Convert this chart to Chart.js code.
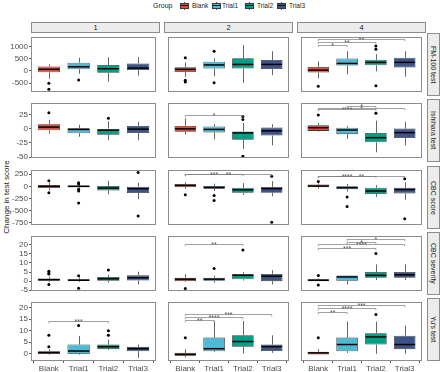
<!DOCTYPE html>
<html><head><meta charset="utf-8">
<script src="https://cdn.jsdelivr.net/npm/chart.js@4"></script>
<style>
body{margin:0;width:440px;height:372px;background:#fff;position:relative;overflow:hidden;font-family:"Liberation Sans",Arial,sans-serif;}
canvas{position:absolute;}
.stripT{position:absolute;top:22px;height:11px;width:129px;background:#ececec;border:1px solid #8c8c8c;box-sizing:border-box;font-size:7.5px;color:#1a1a1a;text-align:center;line-height:9px;}
.stripR{position:absolute;left:427px;width:13px;height:63px;background:#ececec;border:1px solid #8c8c8c;box-sizing:border-box;font-size:7px;color:#1a1a1a;writing-mode:vertical-rl;text-align:center;line-height:11px;white-space:nowrap;}
.lg{position:absolute;top:0;height:11px;line-height:11px;color:#1a1a1a;white-space:nowrap;}
.kw{position:absolute;top:1.5px;width:1px;height:8px;background:#555;}
.kb{position:absolute;top:2.5px;width:9px;height:6px;border:1px solid #3a3a3a;box-sizing:border-box;}
.km{position:absolute;top:5px;width:7px;height:1px;background:#111;}
#ytitle{position:absolute;left:6px;top:197px;transform:translate(-50%,-50%) rotate(-90deg);font-size:8px;color:#222;white-space:nowrap;}
</style>
</head><body>
<script>
// ---------- data ----------
const groups = ['Blank','Trial1','Trial2','Trial3'];
const sessions = ['1','2','4'];
const tests = ['FM-100 test','Ishihara test','CBC score','CBC severity',"Yu's test"];
const groupColors = ['#E64B35','#4DBBD5','#00A087','#3C5488'];

// [lower whisker, Q1, median, Q3, upper whisker] per session, per group
const fm100Stats = [
  [[-330,-60,60,180,260],[-120,60,165,330,535],[-450,-80,85,240,550],[-200,35,110,300,560]],
  [[-240,-50,60,140,345],[-225,95,240,370,510],[-490,95,260,510,1050],[-180,70,260,440,800]],
  [[-310,-70,25,155,380],[-140,215,300,500,800],[-25,225,345,450,680],[-240,130,345,535,800]]
];
const fm100Outliers = [
  [[-510,-760],[-380],[],[]],
  [[535,-390,-460],[800,-490],[],[]],
  [[-630],[],[1010,880,-610],[]]
];
const fm100Sig = [[],[],[[0,1,1050,'*'],[0,2,1168,'**'],[0,3,1286,'**']]];
const fm100Ticks = [-500,0,500,1000];

const ishiharaStats = [
  [[-8.8,-3.1,2.6,7.7,15.5],[-14.4,-8.2,-1.5,0.5,6.7],[-20.6,-10.8,-3,0,12.9],[-20.6,-7.7,-1,4.6,11.9]],
  [[-10.3,-5.7,-0.5,4.6,18],[-19,-6.7,-1.5,3.6,7.7],[-35.6,-19.6,-7.7,-5.2,9.8],[-29.4,-12.4,-4.1,2,7.7]],
  [[-5.2,-4.1,1.5,5.7,9.8],[-18,-9.8,-2.6,1.5,4.6],[-41.8,-24.2,-16,-7.7,13.9],[-29.4,-16.5,-7.2,0,11.9]]
];
const ishiharaOutliers = [
  [[27.8],[],[18],[]],
  [[],[],[21,16,-48.5],[]],
  [[23.7],[],[26.8],[]]
];
const ishiharaSig = [[],[[0,2,24.5,'*']],[[0,2,34.2,'****'],[0,3,35.7,'*'],[1,2,39.3,'*']]];
const ishiharaTicks = [-50,-25,0,25];

const cbcScoreStats = [
  [[-85,-36,0,30,72],[-36,-18,0,18,36],[-163,-84,-36,6,115],[-265,-139,-48,-6,72]],
  [[-54,-18,18,48,84],[-96,-48,-24,6,54],[-175,-133,-72,-30,66],[-205,-133,-48,-12,108]],
  [[-48,-18,6,36,60],[-108,-60,-30,0,48],[-217,-157,-96,-30,24],[-277,-145,-66,-30,84]]
];
const cbcScoreOutliers = [
  [[115,-132],[72,48,-60,-96,-343],[],[283,-608]],
  [[-175],[-187,-289],[],[205,-741]],
  [[102],[-217,-416],[],[157,-669]]
];
const cbcScoreSig = [[],[[0,2,245,'***'],[0,3,262,'**']],[[0,2,205,'****'],[0,3,220,'**']]];
const cbcScoreTicks = [-750,-500,-250,0,250];

const cbcSeverityStats = [
  [[-0.5,0,0.8,1.5,2.5],[-0.5,0,0.5,1.1,2],[-0.8,0.2,1.3,2.3,3.5],[-1.8,0.3,1.9,3.2,5.2]],
  [[-0.3,0,1.1,1.9,3.9],[-0.8,0.2,1.1,1.9,3.1],[0.3,1,3.2,4,5],[-1.8,0,2.7,4,6]],
  [[0,0,0.5,1,1.5],[-1.8,0.2,2.3,3.1,3.1],[0.6,1.9,3.2,5,9.2],[0.6,1.9,3.5,5,9.2]]
];
const cbcSeverityOutliers = [
  [[5.5,4.5,3.9,-1.9],[3,-3.9],[6.1],[]],
  [[-4],[6.9],[17.1],[]],
  [[3.1,-2.1],[],[15.2],[]]
];
const cbcSeveritySig = [[],[[0,2,20.6,'**']],[[0,2,18.4,'***'],[0,3,20.2,'****'],[1,2,21.8,'*'],[1,3,23.4,'*']]];
const cbcSeverityTicks = [-5,0,5,10,15,20];

const yuStats = [
  [[-0.4,-0.1,0.5,1.1,2],[-0.4,-0.1,1.2,4,7.7],[1.6,2,3.1,4,6.1],[-1.8,1.1,2.2,3,4]],
  [[-1.5,-0.9,-0.3,0.4,2],[0.7,1.1,2.2,7,14.2],[0.1,3,5.3,8,14.2],[0.4,1.2,3.1,4,8]],
  [[-0.4,-0.3,0.4,0.9,2],[0.4,1.1,4,7,13.9],[0,4,7.3,8.9,13.9],[0,2,4,7.8,12.2]]
];
const yuOutliers = [
  [[8,3],[12.2],[10,8],[]],
  [[6.9],[],[],[]],
  [[6.9],[],[17],[]]
];
const yuSig = [[[0,2,14.2,'***']],[[0,1,14.6,'**'],[0,2,15.9,'****'],[0,3,17,'***']],[[0,1,18.2,'**'],[0,2,19.9,'****'],[0,3,21.1,'***']]];
const yuTicks = [0,5,10,15,20];

// ---------- layout ----------
const statsByTest = [fm100Stats, ishiharaStats, cbcScoreStats, cbcSeverityStats, yuStats];
const outliersByTest = [fm100Outliers, ishiharaOutliers, cbcScoreOutliers, cbcSeverityOutliers, yuOutliers];
const sigByTest = [fm100Sig, ishiharaSig, cbcScoreSig, cbcSeveritySig, yuSig];
const ticksByTest = [fm100Ticks, ishiharaTicks, cbcScoreTicks, cbcSeverityTicks, yuTicks];
const yRanges = [[-868,1382],[-51.7,44.9],[-795,336],[-5.43,24.86],[-3.12,22.4]];

const colLeft = [31,164,297], panelW = 129;
const rowTop = [33,99,166,232,298], panelH = 63;
const yAxisW = 31, xAxisH = 11;

Chart.defaults.font.family = '"Liberation Sans", Arial, sans-serif';

function el(cls, style, text){
  const e = document.createElement('div');
  if(cls) e.className = cls;
  if(style) e.style.cssText = style;
  if(text!==undefined) e.textContent = text;
  document.body.appendChild(e);
  return e;
}

// legend
el('lg','left:153px;font-size:7px;','Group');
const keyLeft=[180,212,245,277], labLeft=[192,222,257,289];
groups.forEach((g,i)=>{
  el('kw','left:'+(keyLeft[i]+4)+'px');
  const b = el('kb','left:'+keyLeft[i]+'px');
  b.style.backgroundColor = groupColors[i];
  el('km','left:'+(keyLeft[i]+1)+'px');
  el('lg','left:'+labLeft[i]+'px;font-size:6.5px;',g);
});
// strips
sessions.forEach((s,c)=> el('stripT','left:'+colLeft[c]+'px',s));
tests.forEach((t,r)=> el('stripR','top:'+rowTop[r]+'px',t));
el(null,null,'Change in test score').id='ytitle';

function makePlugin(stats, sig){
  return {
    id:'boxParts',
    beforeDatasetsDraw(chart){
      const ctx = chart.ctx, xs = chart.scales.x, ys = chart.scales.y;
      ctx.save();
      ctx.strokeStyle = '#555'; ctx.lineWidth = 0.9;
      stats.forEach((s,i)=>{
        const px = Math.round(xs.getPixelForValue(i+1)) + 0.5;
        ctx.beginPath();
        ctx.moveTo(px, ys.getPixelForValue(s[0])); ctx.lineTo(px, ys.getPixelForValue(s[1]));
        ctx.moveTo(px, ys.getPixelForValue(s[3])); ctx.lineTo(px, ys.getPixelForValue(s[4]));
        ctx.stroke();
      });
      ctx.restore();
    },
    afterDatasetDraw(chart, args){
      if(args.index !== 0) return;
      const ctx = chart.ctx, ys = chart.scales.y;
      const meta = chart.getDatasetMeta(0);
      ctx.save();
      ctx.strokeStyle = '#000'; ctx.lineWidth = 1.5;
      meta.data.forEach((b,i)=>{
        const p = b.getProps(['x','width'], true);
        const py = ys.getPixelForValue(stats[i][2]);
        ctx.beginPath(); ctx.moveTo(p.x - p.width/2 + 0.5, py); ctx.lineTo(p.x + p.width/2 - 0.5, py); ctx.stroke();
      });
      ctx.restore();
    },
    afterDraw(chart){
      const ctx = chart.ctx, xs = chart.scales.x, ys = chart.scales.y, ca = chart.chartArea;
      ctx.save();
      const tip = 0.03 * (ca.bottom - ca.top);
      sig.forEach(b=>{
        const x1 = xs.getPixelForValue(b[0]+1), x2 = xs.getPixelForValue(b[1]+1);
        const py = Math.round(ys.getPixelForValue(b[2])) + 0.5;
        ctx.strokeStyle = '#7a7a7a'; ctx.lineWidth = 0.7;
        ctx.beginPath(); ctx.moveTo(x1, py+tip); ctx.lineTo(x1, py); ctx.lineTo(x2, py); ctx.lineTo(x2, py+tip); ctx.stroke();
        ctx.fillStyle = '#555'; ctx.font = '7px "Liberation Sans", Arial, sans-serif';
        ctx.textAlign = 'center'; ctx.textBaseline = 'alphabetic';
        ctx.fillText(b[3], (x1+x2)/2, py + 2.5);
      });
      ctx.strokeStyle = '#8c8c8c'; ctx.lineWidth = 1;
      ctx.strokeRect(ca.left+0.5, ca.top+0.5, ca.right-ca.left-1, ca.bottom-ca.top-1);
      ctx.restore();
    }
  };
}

for(let r=0;r<5;r++){
  for(let c=0;c<3;c++){
    const showY = c===0, showX = r===4;
    const left = showY ? colLeft[0]-yAxisW : colLeft[c];
    const w = panelW + (showY ? yAxisW : 0);
    const h = panelH + (showX ? xAxisH : 0);
    const cv = document.createElement('canvas');
    cv.width = w; cv.height = h;
    cv.style.left = left+'px'; cv.style.top = rowTop[r]+'px';
    cv.style.width = w+'px'; cv.style.height = h+'px';
    document.body.appendChild(cv);
    const stats = statsByTest[r][c];
    const outs = outliersByTest[r][c];
    const boxData = stats.map((s,i)=>({x:i+1, y:[s[1], s[3]]}));
    const outData = [];
    outs.forEach((arr,i)=>arr.forEach(v=>outData.push({x:i+1, y:v})));
    const tickArr = ticksByTest[r];
    new Chart(cv, {
      type:'bar',
      data:{datasets:[
        {type:'bar', data:boxData, backgroundColor:groupColors, borderColor:'#3a3a3a', borderWidth:0.8, borderSkipped:false,
         categoryPercentage:1, barPercentage:0.75},
        {type:'scatter', data:outData, pointRadius:1.5, pointBackgroundColor:'#000', pointBorderWidth:0, borderColor:'#000'}
      ]},
      options:{
        responsive:false, animation:false, devicePixelRatio:1,
        layout:{padding:0},
        plugins:{legend:{display:false}, tooltip:{enabled:false}},
        scales:{
          x:{type:'linear', min:0.4, max:4.6, offset:false, display:showX,
             afterBuildTicks:s=>{s.ticks=[1,2,3,4].map(v=>({value:v}));},
             afterFit:s=>{ if(showX) s.height = xAxisH; s.paddingLeft=0; s.paddingRight=0; },
             grid:{display:true, drawOnChartArea:false, drawTicks:true, tickLength:2, color:'#333', lineWidth:0.8},
             border:{display:false},
             ticks:{autoSkip:false, maxRotation:0, minRotation:0, padding:1, color:'#4d4d4d', font:{size:8}, callback:v=>groups[v-1]}
          },
          y:{type:'linear', min:yRanges[r][0], max:yRanges[r][1], display:showY,
             afterBuildTicks:s=>{s.ticks=tickArr.map(v=>({value:v}));},
             afterFit:s=>{ if(showY) s.width = yAxisW; s.paddingTop=0; s.paddingBottom=0; },
             grid:{display:true, drawOnChartArea:false, drawTicks:true, tickLength:2, color:'#333', lineWidth:0.8},
             border:{display:false},
             ticks:{autoSkip:false, padding:1, color:'#4d4d4d', font:{size:8}, callback:v=>String(v)}
          }
        }
      },
      plugins:[makePlugin(stats, sigByTest[r][c])]
    });
  }
}
</script>
</body></html>
